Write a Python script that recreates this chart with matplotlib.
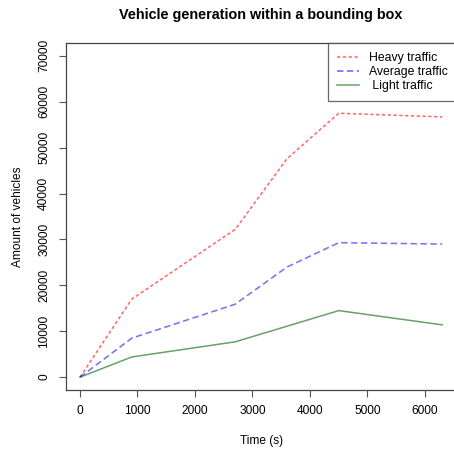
import matplotlib
matplotlib.use('Agg')
import matplotlib.pyplot as plt

# data
time_s = [0, 900, 2700, 3600, 4500, 6300]
heavy = [0, 17000, 32200, 47600, 57500, 56700]
average = [0, 8500, 15900, 24000, 29300, 29000]
light = [0, 4400, 7700, 11100, 14500, 11400]
x_ticks = [0, 1000, 2000, 3000, 4000, 5000, 6000]
y_ticks = [0, 10000, 20000, 30000, 40000, 50000, 60000, 70000]

plt.rcParams['font.family'] = ['Liberation Sans', 'DejaVu Sans']

fig = plt.figure(figsize=(4.54, 4.5), dpi=100)
# axes run a little past the right edge, as in the reference
ax = fig.add_axes([0.1443, 0.1333, 0.8617, 0.7711])

ax.plot(time_s, heavy, color='#ff0000', alpha=0.6, lw=1.1, dashes=(2.2, 1.6), label='Heavy traffic')
ax.plot(time_s, average, color='#0000ff', alpha=0.55, lw=1.15, dashes=(4, 2.2), label='Average traffic')
ax.plot(time_s, light, color='#006400', alpha=0.6, lw=1.1, label=' Light traffic')

ax.set_xlim(-252, 6552)
ax.set_ylim(-2800, 72800)
ax.set_xticks(x_ticks)
ax.set_yticks(y_ticks)
ax.set_yticklabels([str(v) for v in y_ticks], rotation=90, va='center')
ax.tick_params(direction='out', length=5, width=0.8, labelsize=8.6, color='#555555', pad=6)

for s in ax.spines.values():
    s.set_color('#444444')
    s.set_linewidth(0.9)

ax.set_title('Vehicle generation within a bounding box', fontsize=10.4, fontweight='bold', pad=17)
ax.set_xlabel('Time (s)', fontsize=8.6, labelpad=12.5)
ax.set_ylabel('Amount of vehicles', fontsize=8.6, labelpad=10.5)

leg = ax.legend(loc='upper right', fontsize=8.8, frameon=True, fancybox=False,
                borderaxespad=0, handlelength=1.8, handletextpad=0.8,
                labelspacing=0.18, borderpad=0.72)
leg.get_frame().set_edgecolor('#444444')
leg.get_frame().set_linewidth(0.9)
for h in leg.get_lines():
    h.set_alpha(0.6)

fig.savefig('out.png', dpi=100)
